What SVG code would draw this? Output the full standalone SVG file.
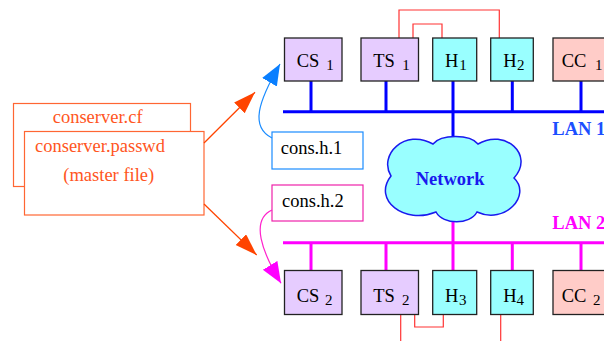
<svg xmlns="http://www.w3.org/2000/svg" width="604" height="341" viewBox="0 0 604 341">
  <style>
    text { font-family: "Liberation Serif", "Times New Roman", serif; font-size: 18.5px; fill: #000; }
    .sub { font-size: 15px; }
    .node { stroke: #222; stroke-width: 1.3; }
    .srv { fill: #e6ccff; }
    .host { fill: #99ffff; }
    .cc { fill: #ffccc8; }
    .file { fill: #fff; stroke: #ff6633; stroke-width: 1.2; }
    .ftext { fill: #ff5522; }
    .bus1 { stroke: #0000ff; stroke-width: 3; fill: none; }
    .bus2 { stroke: #ff00ff; stroke-width: 3; fill: none; }
    .serial { stroke: #ff3333; stroke-width: 1.2; fill: none; }
    .lan { font-weight: bold; }
  </style>
  <defs>
    <marker id="headOrange" markerUnits="userSpaceOnUse" markerWidth="24" markerHeight="16" refX="22" refY="7.5" orient="auto">
      <path d="M0,0 L22,7.5 L0,15 z" fill="#ff4400"/>
    </marker>
    <marker id="headBlue" markerUnits="userSpaceOnUse" markerWidth="24" markerHeight="18" refX="21" refY="8.5" orient="auto">
      <path d="M0,0 L21,8.5 L0,17 z" fill="#0a7fff"/>
    </marker>
    <marker id="headMagenta" markerUnits="userSpaceOnUse" markerWidth="24" markerHeight="18" refX="21" refY="8.5" orient="auto">
      <path d="M0,0 L21,8.5 L0,17 z" fill="#ff00ff"/>
    </marker>
  </defs>

  <!-- configuration files -->
  <g id="conserver-cf">
    <rect class="file" x="13.5" y="103.5" width="177" height="83"/>
    <text class="ftext" x="52.7" y="123">conserver.cf</text>
  </g>
  <g id="conserver-passwd">
    <rect class="file" x="24.5" y="131.5" width="179.5" height="83.5"/>
    <text class="ftext" x="35" y="151.7">conserver.passwd</text>
    <text class="ftext" x="63.3" y="180.7">(master file)</text>
  </g>

  <!-- distributed config files -->
  <g id="cons-h-1">
    <rect x="272" y="132" width="91" height="37" fill="#fff" stroke="#1a8cff" stroke-width="1.2"/>
    <text x="280.7" y="154">cons.h.1</text>
  </g>
  <g id="cons-h-2">
    <rect x="272" y="185" width="91" height="36" fill="#fff" stroke="#ee22aa" stroke-width="1.2"/>
    <text x="282" y="207.3">cons.h.2</text>
  </g>

  <!-- connectors: buses, drops, serial lines, arrows -->
  <g id="connectors">
    <!-- LAN 1 -->
    <path class="bus1" d="M283,111.7 H604"/>
    <path class="bus1" d="M311,81 V111.7 M386,81 V111.7 M453,81 V136 M512.3,81 V111.7 M581,81 V111.7"/>
    <!-- LAN 2 -->
    <path class="bus2" d="M283,242.7 H604"/>
    <path class="bus2" d="M311,242.7 V270 M386,242.7 V270 M453,221 V270 M512.3,242.7 V270 M581,242.7 V270"/>
    <!-- serial lines -->
    <path class="serial" d="M399,38 V10 H499.3 V38"/>
    <path class="serial" d="M413,38 V24 H442 V38"/>
    <path class="serial" d="M400.7,314 V341"/>
    <path class="serial" d="M414.7,314 V327 H443.3 V314"/>
    <path class="serial" d="M500.7,314 V341"/>
    <!-- distribution arrows -->
    <path d="M204,143 L255,92.3" stroke="#ff4400" stroke-width="1.3" fill="none" marker-end="url(#headOrange)"/>
    <path d="M204,204 L256.7,255" stroke="#ff4400" stroke-width="1.3" fill="none" marker-end="url(#headOrange)"/>
    <path d="M272,138 C250,127 258,102 280,64" stroke="#1a8cff" stroke-width="1.2" fill="none" marker-end="url(#headBlue)"/>
    <path d="M272,210 C250,220 262,252 281,283.3" stroke="#ff22cc" stroke-width="1.2" fill="none" marker-end="url(#headMagenta)"/>
  </g>

  <!-- network cloud -->
  <g id="network">
    <path d="M391,176 C378,155 405,128 433,144 C441,134 470,134 478,144 C505,128 535,155 514,178 C532,195 505,225 477,212 C470,225 443,225 436,212 C405,225 372,200 391,176 z" fill="#99ffff" stroke="#1a1aee" stroke-width="1.5"/>
    <text x="415.7" y="185" font-weight="bold" style="fill:#1a1aee">Network</text>
  </g>

  <text class="lan" x="552.3" y="135" style="fill:#1c4fff">LAN 1</text>
  <text class="lan" x="552.3" y="229.3" style="fill:#ff00ff">LAN 2</text>

  <!-- LAN 1 nodes -->
  <g id="cs1">
    <rect class="node srv" x="284.5" y="38" width="57.5" height="43"/>
    <text x="296.7" y="67">CS</text><text class="sub" x="326.2" y="70">1</text>
  </g>
  <g id="ts1">
    <rect class="node srv" x="361" y="38" width="57.5" height="43"/>
    <text x="373.3" y="67">TS</text><text class="sub" x="402.2" y="70">1</text>
  </g>
  <g id="h1">
    <rect class="node host" x="432.7" y="38" width="44" height="43"/>
    <text x="445" y="67">H</text><text class="sub" x="459.3" y="70">1</text>
  </g>
  <g id="h2">
    <rect class="node host" x="490.7" y="38" width="42.6" height="43"/>
    <text x="503.3" y="67">H</text><text class="sub" x="517" y="70">2</text>
  </g>
  <g id="cc1">
    <rect class="node cc" x="553" y="38" width="60" height="43"/>
    <text x="561.7" y="67">CC</text><text class="sub" x="595" y="70">1</text>
  </g>

  <!-- LAN 2 nodes -->
  <g id="cs2">
    <rect class="node srv" x="284.5" y="270.5" width="57.5" height="44"/>
    <text x="296.7" y="301.7">CS</text><text class="sub" x="325" y="305">2</text>
  </g>
  <g id="ts2">
    <rect class="node srv" x="361" y="270.5" width="57.5" height="44"/>
    <text x="373.3" y="301.7">TS</text><text class="sub" x="402" y="305">2</text>
  </g>
  <g id="h3">
    <rect class="node host" x="432.7" y="270.5" width="44" height="44"/>
    <text x="445" y="301.7">H</text><text class="sub" x="459" y="305">3</text>
  </g>
  <g id="h4">
    <rect class="node host" x="490.7" y="270.5" width="42.6" height="44"/>
    <text x="503.3" y="301.7">H</text><text class="sub" x="516.5" y="305">4</text>
  </g>
  <g id="cc2">
    <rect class="node cc" x="553" y="270.5" width="60" height="44"/>
    <text x="561.7" y="301.7">CC</text><text class="sub" x="593" y="305">2</text>
  </g>
</svg>
